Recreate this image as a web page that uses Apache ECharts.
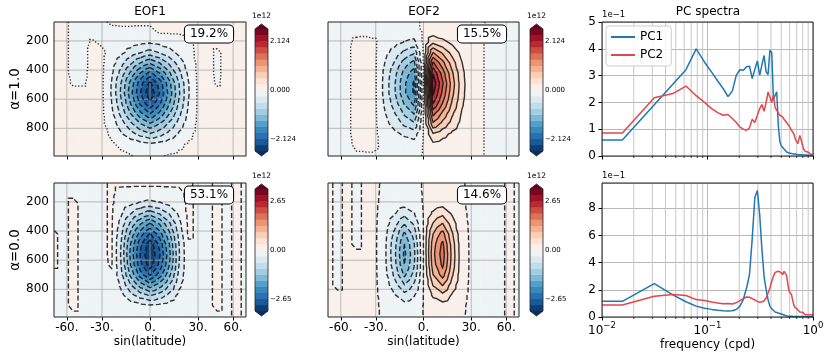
<!DOCTYPE html>
<html>
<head>
<meta charset="utf-8">
<title>EOF maps and PC spectra</title>
<script src="https://cdn.jsdelivr.net/npm/echarts@6/dist/echarts.min.js"></script>
<style>
html, body { margin: 0; padding: 0; background: #fff; }
#chart { width: 831px; height: 359px; }
</style>
</head>
<body>
<div id="chart"></div>
<script>
// ---- EOF map grid (sin(latitude) x depth) ----
var sinLat = [-1.0, -0.9, -0.8, -0.7, -0.6, -0.5, -0.4, -0.3, -0.2, -0.1, 0.0, 0.1, 0.2, 0.3, 0.4, 0.5, 0.6, 0.7, 0.8, 0.9, 1.0];
var depth = [70, 140, 210, 280, 350, 420, 490, 560, 630, 700, 770, 840, 910, 990];
var latTicks = [-60, -30, 0, 30, 60];
var latTickLabels = ['-60.', '-30.', '0.', '30.', '60.'];
var depthTicks = [200, 400, 600, 800];
var titles = ['EOF1', 'EOF2', 'PC spectra'];
var rowNames = ['α=1.0', 'α=0.0'];
var explained = ['19.2%', '15.5%', '53.1%', '14.6%'];
var vmaxRow = [2.655, 3.3125];
var cbarTicks = [[-2.124, 0, 2.124], [-2.65, 0, 2.65]];
var cbarDecimals = [3, 2];

// values in units of 1e12, one row per depth
var eof1Alpha1 = [
  [ .05, .05,-.05,-.05,-.04,-.02, .02, .03, .03, .03, .03, .03, .03, .03, .02, .05, .05, .05, .05, .05, .05],
  [ .05, .05,-.05,-.05,-.05,-.04,-.04,-.04,-.04,-.05,-.05, .02, .02, .02, .03, .05, .05, .05, .05, .05, .05],
  [ .05, .05,-.05,-.05, .02,-.03,-.05,-.1,-.15,-.2,-.24,-.2,-.15,-.1,-.05, .05, .05, .05, .05, .05, .05],
  [ .05, .05,-.05,-.05, .05, .04,-.06,-.2,-.37,-.52,-.64,-.52,-.37,-.2,-.06, .04, .05,-.03, .05, .05, .05],
  [ .05, .05,-.05,-.05, .05, .04,-.14,-.42,-.74,-1.06,-1.29,-1.06,-.74,-.42,-.14, .04, .05,-.03, .05, .05, .05],
  [ .05, .05,-.05,-.04, .05, .04,-.21,-.63,-1.12,-1.59,-1.94,-1.59,-1.12,-.63,-.21, .04, .05,-.03, .05, .05, .05],
  [ .05, .05,-.02,-.02, .05, .04,-.28,-.81,-1.42,-2.02,-2.46,-2.02,-1.42,-.81,-.28, .04, .05,-.02, .05, .05, .05],
  [ .05, .05, .05, .05, .05, .04,-.29,-.85,-1.5,-2.12,-2.59,-2.12,-1.5,-.85,-.29, .04, .05, .05, .05, .05, .05],
  [ .05, .05, .05, .05, .05, .04,-.26,-.76,-1.35,-1.91,-2.33,-1.91,-1.35,-.76,-.26, .04, .05, .05, .05, .05, .05],
  [ .05, .05, .05, .05, .05, .04,-.2,-.61,-1.07,-1.52,-1.86,-1.52,-1.07,-.61,-.2, .04, .05, .05, .05, .05, .05],
  [ .05, .05, .05, .05, .05, .04,-.12,-.41,-.73,-1.05,-1.28,-1.05,-.73,-.41,-.12, .04, .05, .05, .05, .05, .05],
  [ .05, .05, .05, .05, .05, .05,-.03,-.23,-.43,-.62,-.76,-.62,-.43,-.23,-.04, .05, .05, .05, .05, .05, .05],
  [ .05, .05, .05, .05, .05, .05, .02,-.03,-.1,-.16,-.21,-.16,-.1,-.03, .02, .05, .05, .05, .05, .05, .05],
  [ .05, .05, .05, .05, .05, .05, .04, .03, .01,-.03,-.05,-.01, .02, .03, .04, .05, .05, .05, .05, .05, .05]
];
var eof2Alpha1 = [
  [-.04,-.04,-.04,-.03,-.03,-.03,-.03,-.03,-.03,-.03, .02, .03, .03, .03, .03, .03, .03,-.04,-.04,-.04,-.04],
  [-.05,-.05,-.04,-.03,-.03,-.03,-.05,-.07,-.09,-.11, .02, .15, .11, .08, .05, .04, .03,-.04,-.04,-.04,-.04],
  [-.05,-.05,-.03, .03, .04, .02,-.1,-.18,-.28,-.35, .02, .49, .35, .21, .1, .04, .02,-.04,-.05,-.05,-.04],
  [-.05,-.05,-.03, .05, .05, .02,-.19,-.37,-.59,-.75, .02, 1.07, .75, .44, .19, .04, .02,-.04,-.05,-.05,-.04],
  [-.05,-.05,-.03, .05, .05, .02,-.28,-.56,-.91,-1.15, .02, 1.64, 1.15, .66, .28, .04, .02,-.04,-.05,-.05,-.04],
  [-.05,-.05,-.03, .05, .05, .02,-.35,-.71,-1.16,-1.47, .02, 2.1, 1.47, .84, .35, .04, .02,-.04,-.05,-.05,-.04],
  [-.05,-.05,-.03, .05, .05, .02,-.38,-.78,-1.28,-1.63, .02, 2.33, 1.63, .93, .38, .04, .02,-.04,-.05,-.05,-.04],
  [-.05,-.05,-.03, .05, .05, .02,-.38,-.78,-1.28,-1.63, .02, 2.17, 1.52, .87, .36, .04, .02,-.04,-.05,-.05,-.04],
  [-.05,-.05,-.03, .05, .05, .02,-.33,-.67,-1.09,-1.39, .02, 1.87, 1.31, .75, .31, .04, .02,-.04,-.05,-.05,-.04],
  [-.05,-.05,-.03, .05, .05, .02,-.26,-.52,-.84,-1.07, .02, 1.41, .99, .57, .24, .04, .02,-.04,-.05,-.05,-.04],
  [-.05,-.05,-.03, .05, .05, .02,-.19,-.37,-.59,-.75, .02, 1.0, .7, .41, .18, .04, .02,-.04,-.05,-.05,-.04],
  [-.05,-.05,-.03, .05, .05, .02,-.11,-.2,-.31,-.38, .02, .49, .35, .21, .1, .04, .02,-.04,-.05,-.05,-.04],
  [-.05,-.05,-.03, .03, .04, .02,-.06,-.09,-.13,-.16, .02, .21, .16, .1, .06, .04, .02,-.04,-.05,-.05,-.04],
  [-.05,-.05,-.03,-.02,-.02,-.02,-.04,-.05,-.06,-.06, .02, .08, .06, .05, .04, .04, .02,-.04,-.05,-.05,-.04]
];
var eof1Alpha0 = [
  [-.05,-.05,-.05,-.05,-.05,-.05, .04, .04, .04, .04, .04, .04, .04, .04, .04,-.05,-.05, .05,-.05, .05,-.05],
  [-.05,-.05,-.05,-.05,-.05,-.05, .04,-.06,-.07,-.08,-.08,-.08,-.07,-.06, .05,-.05,-.05, .05,-.05, .05,-.05],
  [-.05,-.05, .05,-.05,-.05,-.05, .04,-.13,-.26,-.37,-.45,-.37,-.26,-.13, .05,-.05,-.05, .05,-.05, .05,-.05],
  [-.05,-.05, .05,-.05,-.05,-.05, .04,-.28,-.65,-.97,-1.21,-.97,-.65,-.28, .05,-.05,-.05, .05,-.05, .05,-.05],
  [-.05,-.05, .05,-.05,-.05,-.05, .04,-.45,-1.08,-1.63,-2.03,-1.63,-1.08,-.45, .05,-.05,-.05, .05,-.05, .05,-.05],
  [ .03,-.05, .05,-.05,-.05,-.05, .04,-.58,-1.42,-2.16,-2.69,-2.16,-1.42,-.58, .05,-.05,-.05, .05,-.05, .05,-.05],
  [ .03,-.05, .05,-.05,-.05,-.05, .04,-.68,-1.68,-2.56,-3.19,-2.56,-1.68,-.68,-.05,-.05,-.05, .05,-.05, .05,-.05],
  [ .03,-.05, .05,-.05,-.05,-.05, .04,-.71,-1.77,-2.69,-3.3,-2.69,-1.77,-.71,-.05,-.05,-.05, .05,-.05, .05,-.05],
  [ .03,-.05, .05,-.05,-.05,-.05, .03,-.68,-1.68,-2.56,-3.19,-2.56,-1.68,-.68,-.05,-.05,-.05, .05,-.05, .05,-.05],
  [-.05,-.05, .05,-.05,-.05,-.05,-.05,-.58,-1.42,-2.16,-2.69,-2.16,-1.42,-.58,-.05,-.05,-.05, .05,-.05, .05,-.05],
  [-.05,-.05, .05,-.05,-.05,-.05,-.05,-.41,-.99,-1.5,-1.87,-1.5,-.99,-.41,-.05,-.05,-.05, .05,-.05, .05,-.05],
  [-.05,-.05, .05,-.05,-.05,-.05,-.05,-.25,-.56,-.84,-1.04,-.84,-.56,-.25,-.05,-.05,-.05, .05,-.05, .05,-.05],
  [-.05,-.05, .05,-.05,-.05,-.05,-.05,-.1,-.19,-.26,-.31,-.26,-.19,-.1,-.05,-.05,-.05, .05,-.05, .05,-.05],
  [-.05,-.05,-.05,-.05,-.05,-.05,-.05,-.05,-.05,-.05,-.05,-.05,-.05,-.05,-.05,-.05,-.05,-.05,-.05, .05,-.05]
];
var eof2Alpha0 = [
  [ .05,-.05, .05,-.05, .05, .03,-.04,-.04,-.04,-.04, .01, .03, .03, .03, .02,-.04,-.05,-.05,-.05, .05,-.05],
  [ .05,-.05, .05,-.05, .05, .03,-.05,-.06,-.07,-.06, .01, .05, .07, .05, .02,-.04,-.05,-.05,-.05, .05,-.05],
  [ .05,-.05, .05,-.05, .05, .03,-.07,-.13,-.21,-.15, .01, .15, .21, .12, .03,-.04,-.05,-.05,-.05, .05,-.05],
  [ .05,-.05, .05,-.05, .05, .03,-.12,-.31,-.55,-.36, .01, .39, .57, .29, .05,-.04,-.05,-.05,-.05, .05,-.05],
  [ .05,-.05, .05,-.05, .05, .03,-.18,-.54,-.98,-.62, .01, .69, 1.02, .5, .08,-.04,-.05,-.05,-.05, .05,-.05],
  [ .05,-.05, .05,-.05, .05, .03,-.24,-.76,-1.4,-.88, .01, .99, 1.47, .71, .1,-.04,-.05,-.05,-.05, .05,-.05],
  [ .05,-.05, .05,-.05, .05, .03,-.28,-.9,-1.66,-1.04, .01, 1.17, 1.74, .84, .12,-.04,-.05,-.05,-.05, .05,-.05],
  [ .05,-.05, .05, .05, .05, .03,-.29,-.94,-1.74,-1.09, .01, 1.23, 1.83, .88, .12,-.04,-.05,-.05,-.05, .05,-.05],
  [ .05,-.05, .05, .05, .05, .03,-.28,-.9,-1.66,-1.04, .01, 1.17, 1.74, .84, .12,-.04,-.05,-.05,-.05, .05,-.05],
  [ .05,-.05, .05, .05, .05, .03,-.24,-.76,-1.4,-.88, .01, .99, 1.47, .71, .1,-.04,-.05,-.05,-.05, .05,-.05],
  [ .05,-.05, .05, .05, .05, .03,-.18,-.54,-.98,-.62, .01, .69, 1.02, .5, .08,-.04,-.05,-.05,-.05, .05,-.05],
  [ .05, .05, .05, .05, .05, .03,-.12,-.31,-.55,-.36, .01, .39, .57, .29, .05,-.04,-.05,-.05,-.05, .05,-.05],
  [ .05, .05, .05, .05, .05, .03,-.07,-.13,-.21,-.15, .01, .15, .21, .12, .03,-.04,-.05,-.05,-.05, .05,-.05],
  [ .05, .05, .05, .05, .05, .03,-.05,-.06,-.07,-.06, .01, .05, .07, .05, .02,-.04,-.05,-.05,-.05, .05,-.05]
];

// ---- PC spectra (values in units of 1e-1) ----
var freq = [0.01, 0.0156, 0.0313, 0.0469, 0.0625, 0.0781, 0.0938, 0.1094, 0.125, 0.1406, 0.1563, 0.1719, 0.1875, 0.2031, 0.2188, 0.2344, 0.25, 0.2656, 0.2813, 0.2969, 0.3125, 0.3281, 0.3438, 0.3594, 0.375, 0.3906, 0.4063, 0.4219, 0.4375, 0.4531, 0.4688, 0.4844, 0.5, 0.5156, 0.5313, 0.5469, 0.5625, 0.5781, 0.5938, 0.6094, 0.625, 0.6406, 0.6563, 0.6719, 0.6875, 0.7031, 0.7188, 0.7344, 0.75, 0.7656, 0.7813, 0.7969, 0.8125, 0.8281, 0.8438, 0.8594, 0.875, 0.8906, 0.9063, 0.9219, 0.9375, 0.9531, 0.9688, 0.9844, 1.0];
var pc1Alpha1 = [0.60, 0.60, 1.91, 2.68, 3.22, 4.00, 3.50, 3.13, 2.80, 2.52, 2.22, 2.42, 3.02, 3.22, 3.20, 3.33, 3.35, 2.89, 3.24, 3.55, 3.02, 3.40, 3.75, 3.14, 3.04, 3.95, 3.85, 2.12, 2.08, 2.40, 1.15, 0.55, 0.38, 0.32, 0.26, 0.20, 0.15, 0.12, 0.11, 0.09, 0.09, 0.08, 0.07, 0.06, 0.07, 0.06, 0.05, 0.05, 0.04, 0.05, 0.04, 0.04, 0.04, 0.03, 0.04, 0.04, 0.03, 0.04, 0.03, 0.03, 0.04, 0.03, 0.03, 0.02, 0.02];
var pc2Alpha1 = [0.86, 0.86, 2.17, 2.33, 2.61, 2.25, 2.00, 1.77, 1.62, 1.52, 1.55, 1.40, 1.25, 1.08, 1.00, 0.96, 1.05, 1.37, 1.25, 1.52, 1.77, 1.92, 1.67, 2.00, 2.39, 2.37, 2.00, 2.27, 1.80, 1.71, 1.65, 1.52, 1.58, 1.46, 1.37, 1.30, 1.25, 1.18, 1.12, 1.05, 0.96, 0.90, 0.84, 0.70, 0.59, 0.52, 0.46, 0.62, 0.77, 0.65, 0.52, 0.38, 0.27, 0.20, 0.17, 0.20, 0.21, 0.15, 0.12, 0.10, 0.09, 0.07, 0.05, 0.04, 0.03];
var pc1Alpha0 = [1.15, 1.15, 2.45, 1.63, 1.12, 0.80, 0.64, 0.56, 0.50, 0.46, 0.45, 0.46, 0.55, 0.80, 1.30, 2.13, 3.11, 5.80, 8.80, 9.30, 7.50, 4.95, 2.99, 2.01, 1.27, 0.78, 0.61, 0.47, 0.37, 0.42, 0.29, 0.40, 0.22, 0.17, 0.15, 0.10, 0.08, 0.07, 0.06, 0.06, 0.05, 0.05, 0.04, 0.04, 0.04, 0.03, 0.04, 0.03, 0.03, 0.03, 0.03, 0.02, 0.03, 0.02, 0.02, 0.02, 0.03, 0.02, 0.02, 0.02, 0.02, 0.02, 0.02, 0.02, 0.02];
var pc2Alpha0 = [0.88, 0.88, 1.53, 1.65, 1.58, 1.28, 1.22, 1.10, 1.03, 0.98, 1.00, 0.96, 1.05, 1.20, 1.35, 1.47, 1.45, 1.35, 1.25, 1.15, 1.08, 1.12, 1.18, 1.40, 1.76, 2.13, 2.62, 2.99, 3.28, 3.41, 3.36, 3.33, 3.26, 3.11, 3.36, 3.46, 3.06, 2.38, 1.89, 1.84, 1.64, 1.27, 0.91, 0.71, 0.83, 0.61, 0.47, 0.54, 0.37, 0.51, 0.29, 0.34, 0.22, 0.27, 0.17, 0.25, 0.12, 0.17, 0.12, 0.17, 0.17, 0.12, 0.17, 0.15, 0.17];
var specMax = [5, 9.85];
var pcNames = ['PC1', 'PC2'];
var pcColors = ['#1f77b4', '#e0474c'];
var logMinor = [0.02, 0.03, 0.04, 0.05, 0.06, 0.07, 0.08, 0.09, 0.2, 0.3, 0.4, 0.5, 0.6, 0.7, 0.8, 0.9];

var FONT = 'DejaVu Sans';
var rdbuR = ['#053061', '#2166ac', '#4393c3', '#92c5de', '#d1e5f0', '#f7f7f7', '#fddbc7', '#f4a582', '#d6604d', '#b2182b', '#67001f'];
var latTickPos = latTicks.map(function (d) { return Math.sin(d * Math.PI / 180); });

function rgbOf(h) {
    return [parseInt(h.slice(1, 3), 16), parseInt(h.slice(3, 5), 16), parseInt(h.slice(5, 7), 16)];
}
function cmap(t) {
    t = Math.max(0, Math.min(1, t));
    var pos = t * (rdbuR.length - 1);
    var i = Math.min(Math.floor(pos), rdbuR.length - 2);
    var f = pos - i, a = rgbOf(rdbuR[i]), b = rgbOf(rdbuR[i + 1]);
    return 'rgb(' + [0, 1, 2].map(function (k) { return Math.round(a[k] + f * (b[k] - a[k])); }).join(',') + ')';
}
function levelsFor(vmax) {
    var lv = [];
    for (var k = 0; k <= 20; k++) lv.push((k - 10) / 10 * vmax);
    return lv;
}
function bandColors(levels) {
    var c = [];
    for (var b = 0; b < levels.length - 1; b++) c.push(cmap((b + 0.5) / (levels.length - 1)));
    return c;
}

// keep the part of a polygon above (or below) a level, values linear along edges
function clipBand(pts, level, above) {
    var out = [];
    for (var n = 0; n < pts.length; n++) {
        var a = pts[n], b = pts[(n + 1) % pts.length];
        var ina = above ? a[2] >= level : a[2] <= level;
        var inb = above ? b[2] >= level : b[2] <= level;
        if (ina) out.push(a);
        if (ina !== inb) {
            var t = (level - a[2]) / (b[2] - a[2]);
            out.push([a[0] + t * (b[0] - a[0]), a[1] + t * (b[1] - a[1]), level]);
        }
    }
    return out;
}

function fillRender(field, levels) {
    var colors = bandColors(levels);
    return function (params, api) {
        var i = api.value(2), j = api.value(3);
        var p = [[i, j], [i + 1, j], [i + 1, j + 1], [i, j + 1]].map(function (c) {
            var xy = api.coord([sinLat[c[0]], depth[c[1]]]);
            return [xy[0], xy[1], field[c[1]][c[0]]];
        });
        var children = [];
        [[p[0], p[1], p[2]], [p[0], p[2], p[3]]].forEach(function (tri) {
            var vs = tri.map(function (q) { return q[2]; });
            var lo = Math.min.apply(null, vs), hi = Math.max.apply(null, vs);
            for (var b = -1; b < levels.length; b++) {
                var bLo = b < 0 ? -Infinity : levels[b];
                var bHi = b >= levels.length - 1 ? Infinity : levels[b + 1];
                if (hi < bLo || lo > bHi) continue;
                var poly = tri;
                if (lo < bLo) poly = clipBand(poly, bLo, true);
                if (hi > bHi) poly = clipBand(poly, bHi, false);
                if (poly.length < 3) continue;
                var col = b < 0 ? rdbuR[0] : (b >= levels.length - 1 ? rdbuR[rdbuR.length - 1] : colors[b]);
                children.push({
                    type: 'polygon',
                    shape: {points: poly.map(function (q) { return [q[0], q[1]]; })},
                    style: {fill: col, stroke: col, lineWidth: 0.6}
                });
            }
        });
        return {type: 'group', children: children};
    };
}

// join triangle segments into polylines (segments share edge keys)
function chain(segs) {
    var byKey = {};
    segs.forEach(function (s, n) {
        s.forEach(function (h) { (byKey[h.key] = byKey[h.key] || []).push(n); });
    });
    var used = [], lines = [];
    segs.forEach(function (s, n) {
        if (used[n]) return;
        used[n] = true;
        var pts = [s[0].pt, s[1].pt];
        [1, 0].forEach(function (end) {
            var key = s[end].key;
            while (true) {
                var next = (byKey[key] || []).filter(function (m) { return !used[m]; })[0];
                if (next === undefined) break;
                used[next] = true;
                var t = segs[next];
                var far = t[0].key === key ? t[1] : t[0];
                if (end === 1) pts.push(far.pt); else pts.unshift(far.pt);
                key = far.key;
            }
        });
        lines.push(pts);
    });
    return lines;
}

function contourLines(field, levels) {
    var out = [];
    levels.forEach(function (L) {
        var segs = [];
        for (var j = 0; j < depth.length - 1; j++) {
            for (var i = 0; i < sinLat.length - 1; i++) {
                var c = [[i, j], [i + 1, j], [i + 1, j + 1], [i, j + 1]];
                [[c[0], c[1], c[2]], [c[0], c[2], c[3]]].forEach(function (tri) {
                    var hits = [];
                    for (var e = 0; e < 3; e++) {
                        var a = tri[e], b = tri[(e + 1) % 3];
                        var va = field[a[1]][a[0]], vb = field[b[1]][b[0]];
                        if ((va >= L) !== (vb >= L)) {
                            var t = (L - va) / (vb - va);
                            hits.push({
                                key: [a[0] + ',' + a[1], b[0] + ',' + b[1]].sort().join('|'),
                                pt: [sinLat[a[0]] + t * (sinLat[b[0]] - sinLat[a[0]]), depth[a[1]] + t * (depth[b[1]] - depth[a[1]])]
                            });
                        }
                    }
                    if (hits.length === 2) segs.push(hits);
                });
            }
        }
        chain(segs).forEach(function (pts) { out.push({level: L, pts: pts}); });
    });
    return out;
}

function lineRender(lines, zeroDash) {
    return function (params, api) {
        var ln = lines[api.value(2)];
        var style = {stroke: 'rgba(15,15,15,0.85)', lineWidth: 1.4, fill: 'none'};
        if (ln.level < 0) style.lineDash = [5, 2.5];
        else if (ln.level === 0) style.lineDash = zeroDash;
        return {
            type: 'polyline',
            shape: {points: ln.pts.map(function (q) { return api.coord(q); })},
            style: style
        };
    };
}

function eofGridRender(params, api) {
    var ch = [];
    var st = {stroke: 'rgba(165,165,165,0.75)', lineWidth: 1};
    latTickPos.forEach(function (v) {
        var a = api.coord([v, depth[0]]), b = api.coord([v, depth[depth.length - 1]]);
        ch.push({type: 'line', shape: {x1: a[0], y1: a[1], x2: b[0], y2: b[1]}, style: st});
    });
    depthTicks.forEach(function (v) {
        var a = api.coord([sinLat[0], v]), b = api.coord([sinLat[sinLat.length - 1], v]);
        ch.push({type: 'line', shape: {x1: a[0], y1: a[1], x2: b[0], y2: b[1]}, style: st});
    });
    return {type: 'group', children: ch};
}

function cbarRender(levels) {
    var colors = bandColors(levels);
    return function (params, api) {
        var x0 = api.coord([0, 0])[0], x1 = api.coord([1, 0])[0], xm = (x0 + x1) / 2;
        var ch = [];
        for (var b = 0; b < levels.length - 1; b++) {
            var ya = api.coord([0, levels[b]])[1], yb = api.coord([0, levels[b + 1]])[1];
            ch.push({type: 'rect', shape: {x: x0, y: Math.min(ya, yb), width: x1 - x0, height: Math.abs(yb - ya) + 0.4}, style: {fill: colors[b]}});
        }
        var yBot = api.coord([0, levels[0]])[1], yTop = api.coord([0, levels[levels.length - 1]])[1];
        var tip = 5;
        ch.push({type: 'polygon', shape: {points: [[x0, yBot], [x1, yBot], [xm, yBot + tip]]}, style: {fill: rdbuR[0]}});
        ch.push({type: 'polygon', shape: {points: [[x0, yTop], [x1, yTop], [xm, yTop - tip]]}, style: {fill: rdbuR[rdbuR.length - 1]}});
        ch.push({type: 'polygon', shape: {points: [[x0, yTop], [xm, yTop - tip], [x1, yTop], [x1, yBot], [xm, yBot + tip], [x0, yBot]]},
                 style: {fill: 'none', stroke: '#222', lineWidth: 0.8}});
        return {type: 'group', children: ch};
    };
}

function specGridRender(ymax) {
    return function (params, api) {
        var ch = [];
        logMinor.forEach(function (f) {
            var a = api.coord([f, 0]), b = api.coord([f, ymax]);
            ch.push({type: 'line', shape: {x1: a[0], y1: a[1], x2: b[0], y2: b[1]}, style: {stroke: '#c6c6c6', lineWidth: 1}});
            ch.push({type: 'line', shape: {x1: a[0], y1: a[1], x2: a[0], y2: a[1] + 2}, style: {stroke: '#000', lineWidth: 0.8}});
        });
        return {type: 'group', children: ch};
    };
}

// ---- layout ----
var eofGrids = [
    {left: 54, top: 22, width: 192, height: 134},
    {left: 328, top: 22, width: 191, height: 134},
    {left: 54, top: 183, width: 192, height: 134},
    {left: 328, top: 183, width: 191, height: 134}
];
var specGrids = [
    {left: 602, top: 22, width: 211, height: 134},
    {left: 602, top: 183, width: 211, height: 134}
];
var cbarGrids = [
    {left: 255, top: 29, width: 13, height: 122},
    {left: 530, top: 29, width: 13, height: 122},
    {left: 255, top: 189, width: 13, height: 122},
    {left: 530, top: 189, width: 13, height: 122}
];
var fields = [eof1Alpha1, eof2Alpha1, eof1Alpha0, eof2Alpha0];
var pcRows = [[pc1Alpha1, pc2Alpha1], [pc1Alpha0, pc2Alpha0]];

var grids = [], xAxes = [], yAxes = [], series = [], graphics = [];
var frame = {show: true, borderColor: '#222', borderWidth: 1, backgroundColor: 'transparent', z: 10};

var cells = [];
for (var j = 0; j < depth.length - 1; j++) {
    for (var i = 0; i < sinLat.length - 1; i++) cells.push([sinLat[i], depth[j], i, j]);
}

fields.forEach(function (field, p) {
    var row = p < 2 ? 0 : 1, col = p % 2;
    var g = grids.length;
    grids.push(Object.assign({}, eofGrids[p], frame));
    xAxes.push({
        gridIndex: g, type: 'value', min: -1, max: 1,
        axisLine: {show: false},
        axisTick: {show: true, customValues: latTickPos, length: 3.5, lineStyle: {color: '#000'}},
        axisLabel: {show: row === 1, customValues: latTickPos, fontSize: 12, color: '#000', margin: 5,
            formatter: function (v) {
                for (var n = 0; n < latTickPos.length; n++) if (Math.abs(latTickPos[n] - v) < 1e-6) return latTickLabels[n];
                return '';
            }},
        splitLine: {show: false},
        name: row === 1 ? 'sin(latitude)' : '', nameLocation: 'middle', nameGap: 19,
        nameTextStyle: {fontSize: 12, color: '#000', fontFamily: FONT}
    });
    yAxes.push({
        gridIndex: g, type: 'value', inverse: true, min: depth[0], max: depth[depth.length - 1],
        axisLine: {show: false},
        axisTick: {show: true, customValues: depthTicks, length: 3.5, lineStyle: {color: '#000'}},
        axisLabel: {show: col === 0, customValues: depthTicks, fontSize: 12, color: '#000', margin: 5},
        splitLine: {show: false},
        name: col === 0 ? rowNames[row] : '', nameLocation: 'middle', nameGap: 31, nameRotate: 90,
        nameTextStyle: {fontSize: 13.5, color: '#000', fontFamily: FONT}
    });
    var levels = levelsFor(vmaxRow[row]);
    var lines = contourLines(field, levels);
    series.push({
        type: 'custom', xAxisIndex: g, yAxisIndex: g, silent: true, z: 1,
        encode: {x: 0, y: 1}, data: cells, renderItem: fillRender(field, levels)
    });
    series.push({
        type: 'custom', xAxisIndex: g, yAxisIndex: g, silent: true, z: 2,
        encode: {x: 0, y: 1}, data: [[0, 500]], renderItem: eofGridRender
    });
    series.push({
        type: 'custom', xAxisIndex: g, yAxisIndex: g, silent: true, z: 3,
        encode: {x: 0, y: 1},
        data: lines.map(function (ln, n) { return [ln.pts[0][0], ln.pts[0][1], n]; }),
        renderItem: lineRender(lines, row === 0 ? [1.3, 1.9] : [5, 2.5])
    });
    var eg = eofGrids[p];
    graphics.push({
        type: 'text', x: eg.left + eg.width - 37, y: eg.top + 12, z: 100,
        style: {text: explained[p], fontSize: 12, fontFamily: FONT, fill: '#000', align: 'center', verticalAlign: 'middle',
                backgroundColor: '#fff', borderColor: '#000', borderWidth: 1, borderRadius: 4, padding: [3, 5, 2, 5]}
    });
});

pcRows.forEach(function (vals, row) {
    var g = grids.length;
    grids.push(Object.assign({}, specGrids[row], frame));
    xAxes.push({
        gridIndex: g, type: 'log', logBase: 10, min: 0.01, max: 1,
        axisLine: {show: false},
        axisTick: {show: true, length: 3.5, lineStyle: {color: '#000'}},
        axisLabel: {show: row === 1, margin: 4,
            formatter: function (v) {
                var e = Math.round(Math.log(v) / Math.LN10);
                return '{b|10}{s|' + (e < 0 ? '\u2212' + (-e) : e) + '}';
            },
            rich: {
                b: {fontSize: 12, fontFamily: FONT, color: '#000', lineHeight: 16, verticalAlign: 'bottom'},
                s: {fontSize: 8.5, fontFamily: FONT, color: '#000', lineHeight: 9, verticalAlign: 'top'}
            }},
        splitLine: {show: true, lineStyle: {color: '#b8b8b8', width: 1}},
        name: row === 1 ? 'frequency (cpd)' : '', nameLocation: 'middle', nameGap: 22,
        nameTextStyle: {fontSize: 12, color: '#000', fontFamily: FONT}
    });
    yAxes.push({
        gridIndex: g, type: 'value', min: 0, max: specMax[row], interval: row === 0 ? 1 : 2,
        axisLine: {show: false},
        axisTick: {show: true, length: 3.5, lineStyle: {color: '#000'}},
        axisLabel: {fontSize: 12, color: '#000', margin: 6, showMaxLabel: row === 0},
        splitLine: {show: true, lineStyle: {color: '#b8b8b8', width: 1}}
    });
    series.push({
        type: 'custom', xAxisIndex: g, yAxisIndex: g, silent: true, z: 1,
        encode: {x: 0, y: 1}, data: [[0.1, 0]], renderItem: specGridRender(specMax[row])
    });
    vals.forEach(function (v, s) {
        series.push({
            type: 'line', name: pcNames[s], xAxisIndex: g, yAxisIndex: g, z: 3 + s,
            data: freq.map(function (f, n) { return [f, v[n]]; }),
            symbol: 'none', showSymbol: false, clip: true,
            lineStyle: {color: pcColors[s], width: 1.5}, itemStyle: {color: pcColors[s]}
        });
    });
    var sg = specGrids[row];
    graphics.push({
        type: 'text', x: sg.left, y: sg.top - 7, z: 100,
        style: {text: '1e\u22121', fontSize: 8.5, fontFamily: FONT, fill: '#000', align: 'left', verticalAlign: 'middle'}
    });
});

cbarGrids.forEach(function (cg, c) {
    var row = c < 2 ? 0 : 1;
    var g = grids.length;
    grids.push(cg);
    var vmax = vmaxRow[row];
    xAxes.push({gridIndex: g, type: 'value', min: 0, max: 1, show: false});
    yAxes.push({
        gridIndex: g, type: 'value', min: -vmax, max: vmax, position: 'right',
        axisLine: {show: false},
        axisTick: {show: true, customValues: cbarTicks[row], length: 3, lineStyle: {color: '#000'}},
        axisLabel: {show: true, customValues: cbarTicks[row], fontSize: 7, color: '#000', margin: 2,
            formatter: function (v) { return (v < 0 ? '\u2212' : '') + Math.abs(v).toFixed(cbarDecimals[row]); }},
        splitLine: {show: false}
    });
    series.push({
        type: 'custom', xAxisIndex: g, yAxisIndex: g, silent: true, z: 2,
        encode: {x: 0, y: 1}, data: [[0.5, 0]], renderItem: cbarRender(levelsFor(vmax))
    });
    graphics.push({
        type: 'text', x: cg.left + cg.width / 2, y: cg.top - 13, z: 100,
        style: {text: '1e12', fontSize: 7.5, fontFamily: FONT, fill: '#000', align: 'center', verticalAlign: 'middle'}
    });
});

var titleX = [150, 424, 708];
titles.forEach(function (t, n) {
    graphics.push({
        type: 'text', x: titleX[n], y: 12, z: 100,
        style: {text: t, fontSize: 12, fontFamily: FONT, fill: '#000', align: 'center', verticalAlign: 'middle'}
    });
});

var option = {
    animation: false,
    textStyle: {fontFamily: FONT, color: '#000'},
    grid: grids,
    xAxis: xAxes,
    yAxis: yAxes,
    legend: {
        show: true, data: pcNames, orient: 'vertical', left: 606, top: 26,
        icon: 'rect', itemWidth: 24, itemHeight: 2, itemGap: 6, padding: [5, 8, 5, 5],
        borderColor: '#ccc', borderWidth: 1, borderRadius: 3, backgroundColor: 'rgba(255,255,255,0.85)',
        textStyle: {fontSize: 12, color: '#000', fontFamily: FONT}
    },
    graphic: graphics,
    series: series
};

var chart = echarts.init(document.getElementById('chart'), null, {renderer: 'canvas'});
chart.setOption(option);
</script>
</body>
</html>
